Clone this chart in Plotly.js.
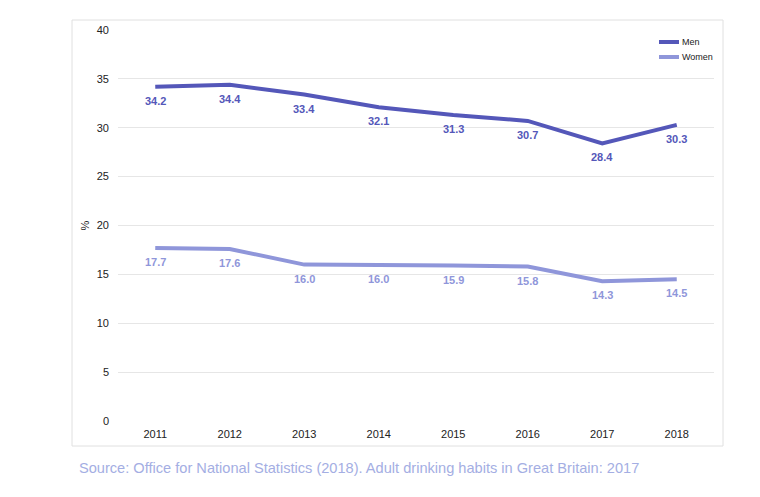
<!DOCTYPE html>
<html>
<head>
<meta charset="utf-8">
<script src="https://cdn.plot.ly/plotly-3.0.1.min.js"></script>
<style>
  html, body { margin: 0; padding: 0; background: #fff; }
  #chart { width: 760px; height: 497px; }
</style>
</head>
<body>
<div id="chart"></div>
<script>
const years = ['2011', '2012', '2013', '2014', '2015', '2016', '2017', '2018'];
const men = [34.2, 34.4, 33.4, 32.1, 31.3, 30.7, 28.4, 30.3];
const women = [17.7, 17.6, 16.0, 16.0, 15.9, 15.8, 14.3, 14.5];
const yTicks = [0, 5, 10, 15, 20, 25, 30, 35, 40];
const seriesNames = ['Men', 'Women'];
const sourceText = 'Source: Office for National Statistics (2018). Adult drinking habits in Great Britain: 2017';

const menColor = '#5457b9';
const womenColor = '#8f96da';
const FONT = 'Liberation Sans, Arial, sans-serif';

const W = 760, H = 497;
const L = 118, R = 46, T = 30, B = 76;
const pw = W - L - R, ph = H - T - B;
function px(x) { return (x - L) / pw; }
function py(y) { return (H - B - y) / ph; }

const traces = [
  {
    x: years, y: men, name: seriesNames[0], type: 'scatter', mode: 'lines',
    line: { color: menColor, width: 4 }, hoverinfo: 'skip'
  },
  {
    x: years, y: women, name: seriesNames[1], type: 'scatter', mode: 'lines',
    line: { color: womenColor, width: 4 }, hoverinfo: 'skip'
  }
];

function labels(vals, color) {
  return vals.map((v, i) => ({
    x: i, y: v, xref: 'x', yref: 'y',
    text: '<b>' + v.toFixed(1) + '</b>', showarrow: false,
    xanchor: 'center', yanchor: 'middle', yshift: -14,
    font: { size: 11, color: color, family: FONT }
  }));
}

const legendItems = [
  { name: seriesNames[0], color: menColor, y: 42 },
  { name: seriesNames[1], color: womenColor, y: 57 }
];

const shapes = [
  {
    type: 'rect', xref: 'paper', yref: 'paper',
    x0: px(72), x1: px(723), y0: py(446), y1: py(20),
    line: { color: '#e0e0e0', width: 1 }, fillcolor: 'rgba(0,0,0,0)', layer: 'below'
  }
];
const annotations = [
  {
    text: sourceText, xref: 'paper', yref: 'paper',
    x: px(77), y: py(468), xanchor: 'left', yanchor: 'middle',
    showarrow: false,
    font: { size: 14.6, color: '#a4aee3', family: FONT }
  }
].concat(labels(men, menColor), labels(women, womenColor));

legendItems.forEach(it => {
  shapes.push({
    type: 'line', xref: 'paper', yref: 'paper',
    x0: px(659), x1: px(679), y0: py(it.y), y1: py(it.y),
    line: { color: it.color, width: 4 }
  });
  annotations.push({
    text: it.name, xref: 'paper', yref: 'paper',
    x: px(680), y: py(it.y), xanchor: 'left', yanchor: 'middle',
    showarrow: false, font: { size: 9, color: '#222', family: FONT }
  });
});

const layout = {
  width: W, height: H,
  margin: { l: L, r: R, t: T, b: B, pad: 0 },
  paper_bgcolor: '#ffffff',
  plot_bgcolor: '#ffffff',
  font: { family: FONT, size: 11, color: '#222' },
  showlegend: false,
  xaxis: {
    type: 'category',
    range: [-0.5, 7.5],
    showgrid: false, zeroline: false, showline: false,
    ticks: '', ticklabelstandoff: 5,
    tickfont: { size: 11, color: '#222' },
    fixedrange: true
  },
  yaxis: {
    range: [0, 40],
    tickvals: yTicks,
    ticks: '', ticklabelstandoff: 8,
    showgrid: true, gridcolor: '#e6e6e6', gridwidth: 1,
    zeroline: false, showline: false,
    tickfont: { size: 11, color: '#222' },
    title: { text: '%', font: { size: 11, color: '#222' }, standoff: 4 },
    fixedrange: true
  },
  shapes: shapes,
  annotations: annotations
};

Plotly.newPlot('chart', traces, layout, { displayModeBar: false, staticPlot: true });
</script>
</body>
</html>
